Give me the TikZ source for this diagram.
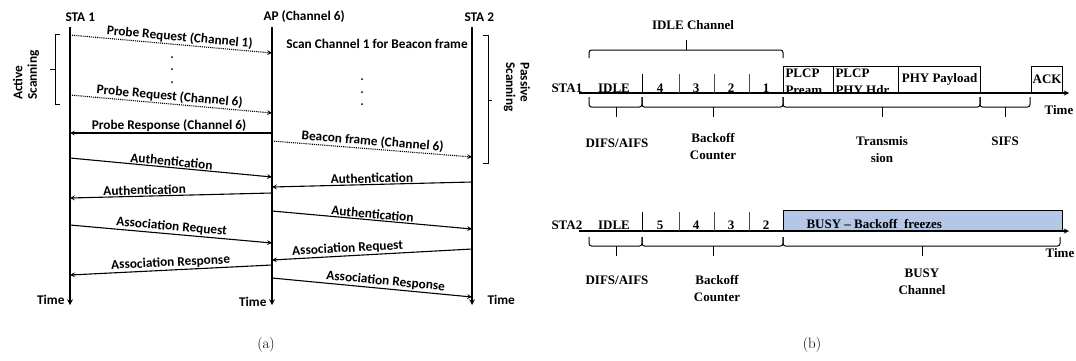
\documentclass[tikz,border=0pt]{standalone}
\usepackage{fontspec}
\newfontfamily\cali{Carlito}
\newfontfamily\tnr{Liberation Serif}
\definecolor{busyblue}{RGB}{180,199,231}

% brace drawn as a square-ish bracket: x1, x2, xtip, yend, ybody, ytip
\newcommand{\bracepath}[6]{%
  \draw[rounded corners=2.5pt] (#1,#4) -- (#1,#5) -- (#2,#5) -- (#2,#4);
  \draw (#3,#5) -- (#3,#6);}

\begin{document}
\begin{tikzpicture}[>=stealth, x=1pt, y=-1pt, line width=1pt,
  lbl/.style={font=\cali\bfseries\fontsize{13.3}{14.5}\selectfont, inner sep=1pt},
  msg/.style={->, line width=1.1pt},
  scan/.style={msg, densely dotted},
  life/.style={->, line width=1.5pt},
  tlbl/.style={font=\tnr\bfseries\fontsize{13}{17}\selectfont, inner sep=1pt, align=center},
  slot/.style={draw, line width=1.1pt, anchor=south west, inner sep=0pt, minimum height=26pt,
    font=\tnr\bfseries\fontsize{13}{17}\selectfont},
  captxt/.style={font=\fontsize{15}{17}\selectfont}]
  \useasboundingbox (0,0) rectangle (1076,360);

  % ---------------- (a) scanning and association ----------------
  % Lifelines
  \node[lbl, anchor=west] (sta1) at (64,17) {STA 1};
  \node[lbl, anchor=west] (ap) at (262,17) {AP (Channel 6)};
  \node[lbl, anchor=west] (sta2) at (463,17) {STA 2};
  \coordinate (s1top) at (70,27);  \coordinate (s1end) at (70,305);
  \coordinate (aptop) at (272,27); \coordinate (apend) at (272,305);
  \coordinate (s2top) at (472,27); \coordinate (s2end) at (472,305);
  \draw[life] (s1top) -- (s1end);
  \draw[life] (aptop) -- (apend);
  \draw[life] (s2top) -- (s2end);
  \node[lbl, anchor=east] (time1) at (66,300) {Time};
  \node[lbl, anchor=east] (time2) at (268,302) {Time};
  \node[lbl, anchor=west] (time3) at (486,300) {Time};

  % Active scanning
  \coordinate (s1a) at (70,35);  \coordinate (apa) at (272,53);
  \coordinate (s1b) at (70,95);  \coordinate (apb) at (272,113);
  \coordinate (apc) at (272,133); \coordinate (s1c) at (70,133);
  \draw[scan] (s1a) -- node[lbl, sloped, above, pos=0.54] (prq1) {Probe Request (Channel 1)} (apa);
  \draw[scan] (s1b) -- node[lbl, sloped, above, pos=0.49] (prq6) {Probe Request (Channel 6)} (apb);
  \draw[msg] (apc) -- node[lbl, above, pos=0.51] (prsp) {Probe Response (Channel 6)} (s1c);
  \foreach \y in {57,69,82}
    \fill (172,\y) circle (1pt);

  % Passive scanning
  \node[lbl] (scan1) at (377,44) {Scan Channel 1 for Beacon frame};
  \foreach \y in {79,92,104}
    \fill (362,\y) circle (1pt);
  \coordinate (apd) at (272,141); \coordinate (s2d) at (472,157);
  \draw[scan] (apd) -- node[lbl, sloped, above, pos=0.5] (bcn) {Beacon frame (Channel 6)} (s2d);

  % Brackets
  \draw (60,34) -- (55,34) -- (55,104) -- (60,104);
  \draw (55,69) -- (50,69);
  \node[lbl, rotate=90, align=left] (actv) at (26,75) {Active\\Scanning};
  \draw (483,35) -- (488,35) -- (488,163) -- (483,163);
  \draw (488,100) -- (492,100);
  \node[lbl, rotate=-90, align=left] (pasv) at (517,87) {Passive\\Scanning};

  % Authentication and association
  \coordinate (s1e) at (70,158);  \coordinate (ape) at (272,177);
  \coordinate (s2f) at (472,182); \coordinate (apf) at (272,187);
  \coordinate (apg) at (272,193); \coordinate (s1g) at (70,198);
  \coordinate (aph) at (272,211); \coordinate (s2h) at (472,229);
  \coordinate (s1i) at (70,225);  \coordinate (api) at (272,243);
  \coordinate (s2j) at (472,249); \coordinate (apj) at (272,260);
  \coordinate (apk) at (272,265); \coordinate (s1k) at (70,275);
  \coordinate (apl) at (272,278); \coordinate (s2l) at (472,297);
  \draw[msg] (s1e) -- node[lbl, sloped, above] (auth1) {Authentication} (ape);
  \draw[msg] (s2f) -- node[lbl, sloped, above] (auth2) {Authentication} (apf);
  \draw[msg] (apg) -- node[lbl, sloped, above, pos=0.63] (auth3) {Authentication} (s1g);
  \draw[msg] (aph) -- node[lbl, sloped, above] (auth4) {Authentication} (s2h);
  \draw[msg] (s1i) -- node[lbl, sloped, above] (areq1) {Association Request} (api);
  \draw[msg] (s2j) -- node[lbl, sloped, above, pos=0.62] (areq2) {Association Request} (apj);
  \draw[msg] (apk) -- node[lbl, sloped, above] (arsp1) {Association Response} (s1k);
  \draw[msg] (apl) -- node[lbl, sloped, above, pos=0.565] (arsp2) {Association Response} (s2l);

  % ---------------- (b) channel access ----------------
  % STA1 time line
  \node[tlbl, anchor=base west] (sta1b) at (550,92) {STA1};
  \coordinate (ax1s) at (579,93); \coordinate (ax1e) at (1069,93);
  \draw[->, line width=1.3pt] (ax1s) -- (ax1e);
  \node[tlbl, anchor=base] (idle1) at (614,92) {IDLE};
  \draw (642,74) -- (642,93);
  \foreach \x in {679,714,749}
    \draw[gray!60!black] (\x,74) -- (\x,93);
  \foreach \x/\n in {660/4,696/3,731/2,766/1}
    \node[tlbl, anchor=base] (ctr1\n) at (\x,92) {\n};

  % Frame slots
  \node[slot, minimum width=50pt] (pream) at (783,93) {};
  \node[slot, minimum width=65pt] (phyhdr) at (833,93) {};
  \node[slot, minimum width=82pt] (payload) at (898,93) {PHY Payload};
  \node[slot, minimum width=31pt] (ack) at (1031,93) {ACK};
  \begin{scope}
    \clip (pream.south west) rectangle (phyhdr.north east);
    \node[tlbl, anchor=north west, align=left, inner sep=2pt] (preamtxt) at (pream.north west) {PLCP\\Pream.};
    \node[tlbl, anchor=north west, align=left, inner sep=2pt] (hdrtxt) at (phyhdr.north west) {PLCP\\PHY Hdr};
  \end{scope}
  \node[tlbl] (time4) at (1059,110) {Time};

  % STA1 braces
  \node[tlbl] (idlech) at (693,25) {IDLE Channel};
  \bracepath{589}{783}{686}{58}{50}{40}
  \bracepath{589}{642}{616}{97}{107}{117}
  \bracepath{642}{783}{713}{97}{107}{117}
  \bracepath{783}{980}{882}{97}{107}{117}
  \bracepath{980}{1030}{1005}{97}{107}{117}
  \node[tlbl] (difs1) at (617,143) {DIFS/AIFS};
  \node[tlbl] (boff1) at (713,146) {Backoff\\Counter};
  \node[tlbl] (txm) at (882,150) {Transmis\\sion};
  \node[tlbl] (sifs) at (1005,141) {SIFS};

  % STA2 time line
  \node[tlbl, anchor=base west] (sta2b) at (550,229) {STA2};
  \node[slot, minimum width=279pt, minimum height=20pt, fill=busyblue] (busy) at (783,231) {};
  \node[tlbl, anchor=base west] (busytxt) at (805,228) {BUSY – Backoff\ \ freezes};
  \coordinate (ax2s) at (579,231); \coordinate (ax2e) at (1069,231);
  \draw[->, line width=1.3pt] (ax2s) -- (ax2e);
  \node[tlbl, anchor=base] (idle2) at (614,229) {IDLE};
  \draw (642,212) -- (642,231);
  \foreach \x in {679,714,749}
    \draw[gray!60!black] (\x,212) -- (\x,231);
  \foreach \x/\n in {660/5,696/4,731/3,766/2}
    \node[tlbl, anchor=base] (ctr2\n) at (\x,229) {\n};
  \node[tlbl] (time5) at (1060,253) {Time};

  % STA2 braces
  \bracepath{589}{642}{616}{237}{246}{256}
  \bracepath{642}{783}{713}{237}{246}{256}
  \bracepath{783}{1060}{922}{237}{246}{256}
  \node[tlbl] (difs2) at (617,280) {DIFS/AIFS};
  \node[tlbl] (boff2) at (717,288) {Backoff\\Counter};
  \node[tlbl] (busych) at (922,282) {BUSY\\Channel};

  % Captions
  \node[captxt] (capa) at (266,345) {(a)};
  \node[captxt] (capb) at (812,345) {(b)};
\end{tikzpicture}
\end{document}
